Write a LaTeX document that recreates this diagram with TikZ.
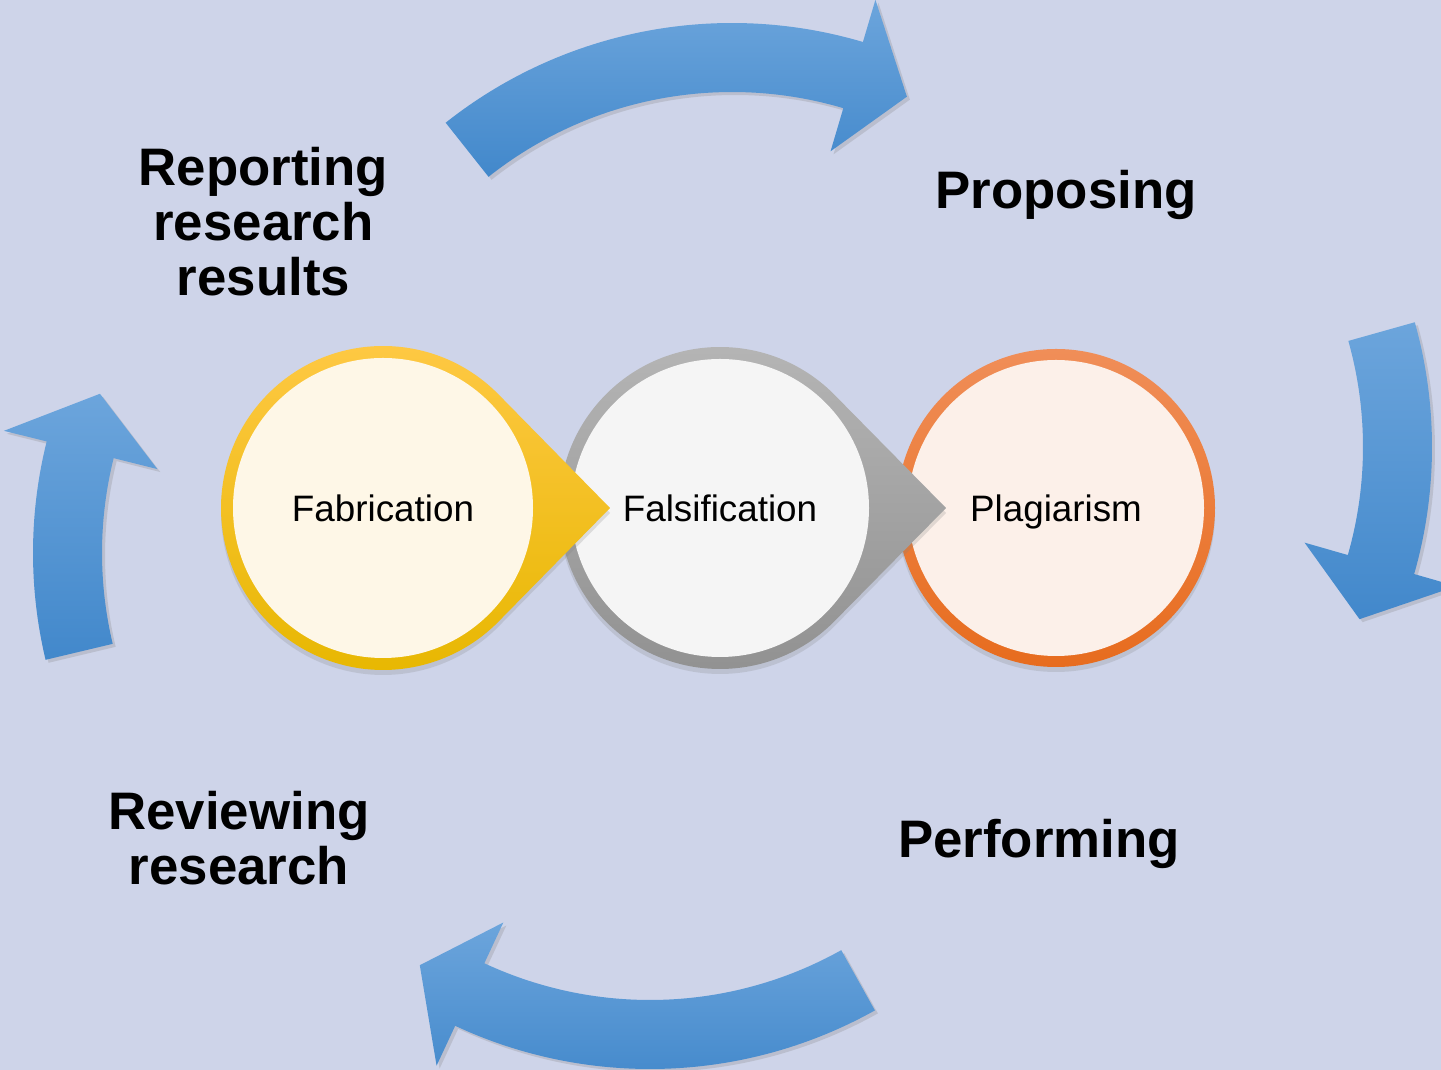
\documentclass[tikz,border=0pt]{standalone}
\usepackage{fontspec}
\setmainfont{Liberation Sans}
\usepackage{tikz}
\usepackage{xcolor}
\usetikzlibrary{shadows}

\definecolor{slide}{RGB}{206,212,233}
\definecolor{bluetop}{RGB}{108,165,220}
\definecolor{bluebot}{RGB}{66,136,203}
\definecolor{fabtop}{RGB}{255,201,70}
\definecolor{fabbot}{RGB}{231,183,0}
\definecolor{fabin}{RGB}{254,247,231}
\definecolor{falstop}{RGB}{182,182,182}
\definecolor{falsbot}{RGB}{144,144,144}
\definecolor{falsin}{RGB}{245,245,245}
\definecolor{plagtop}{RGB}{240,142,88}
\definecolor{plagbot}{RGB}{231,108,30}
\definecolor{plagin}{RGB}{252,240,233}

\begin{document}
\begin{tikzpicture}
[x=0.5pt,y=0.5pt,
      stage/.style={font=\bfseries\fontsize{26.4}{27.5}\selectfont,
      align=center,inner sep=0pt},
      core/.style={circle,inner sep=0pt,outer sep=0pt,
      font=\fontsize{18.4}{22}\selectfont,text height=13.2pt,text depth=0pt},
      band/.style={top color=bluetop,bottom color=bluebot,
      drop shadow={opacity=0.25,shadow xshift=1.5pt,shadow yshift=-1.5pt}},
      ring/.style={drop shadow={opacity=0.22,shadow xshift=0pt,shadow yshift=-2.5pt}}]
 \path[use as bounding box] (0,0) rectangle (1441,1070);
 \fill[slide] (0,0) rectangle (1441,1070);

 % curved arrows of the cycle: centre / tail / head base / tip
 \foreach \cx/\cy/\from/\to/\tip in {732/586/128.4/73.5/65.7,
   971/623/15.7/-16/-23.9, 650/462/-60.8/-115/-122.8,
   494/517/193.4/166/158}
 {
  \begin{scope}[shift={(\cx,\cy)}]
   \path[band] (\from:461) arc[start angle=\from,end angle=\to,radius=461]
    -- (\to:505) -- (\tip:425) -- (\to:347) -- (\to:392)
    arc[start angle=\to,end angle=\from,radius=392] -- cycle;
  \end{scope}
 }

 \coordinate (fabc) at (383,562);
 \coordinate (falsc) at (720,562);
 \coordinate (plagc) at (1056,562);

 % rings, each one pointing at the next
 \path[ring,top color=plagtop,bottom color=plagbot] (plagc) circle[radius=159];
 \node[core,fill=plagin,minimum size=148pt] (plag) at (plagc) {Plagiarism};

 \path[ring,top color=falstop,bottom color=falsbot] (946,562)
  -- ([shift={(45.6:161)}]falsc) arc[start angle=45.6,end angle=314.4,radius=161]
  -- cycle;
 \node[core,fill=falsin,minimum size=149pt] (fals) at (falsc) {Falsification};

 \path[ring,top color=fabtop,bottom color=fabbot] (610,562)
  -- ([shift={(44.5:162)}]fabc) arc[start angle=44.5,end angle=315.5,radius=162]
  -- cycle;
 \node[core,fill=fabin,minimum size=150pt] (fab) at (fabc) {Fabrication};

 % stage labels
 \node[stage] (report) at (263.5,848) {Reporting\\research\\results};
 \node[stage,anchor=base] (propose) at (1066,861) {Proposing};
 \node[stage,anchor=base] (perform) at (1039,212) {Performing};
 \node[stage] (review) at (239,231.5) {Reviewing\\research};
\end{tikzpicture}
\end{document}
